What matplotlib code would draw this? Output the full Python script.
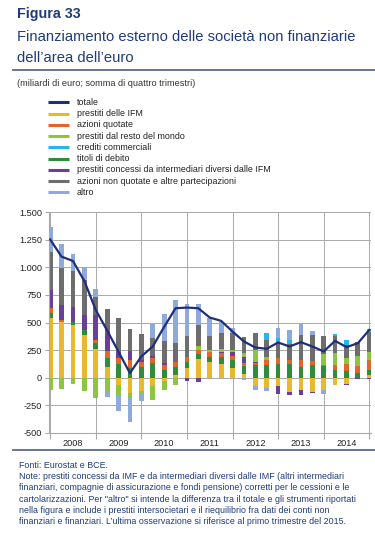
"""Figura 33 - finanziamento esterno delle societa non finanziarie dell'area dell'euro.

Stacked quarterly bars (somma di quattro trimestri) with the total as a line; writes out.png.
"""

import matplotlib

matplotlib.use("Agg")
import matplotlib.pyplot as plt
import numpy as np
from matplotlib.lines import Line2D
from matplotlib.ticker import FixedLocator, FuncFormatter

# quarters 2008Q1 .. 2015Q1 (29 observations), miliardi di euro
YEARS = ["2008", "2009", "2010", "2011", "2012", "2013", "2014"]

totale = [1252, 1096, 1057, 876, 614, 428, 235, 42, 193, 283, 460, 629, 635, 629, 545,
          515, 418, 328, 274, 262, 319, 283, 322, 283, 238, 334, 277, 313, 433]
prestiti_ifm = [545, 509, 473, 388, 262, 96, -63, -139, -120, -78, -30, 21, 87, 172, 147,
                123, 87, 30, -78, -93, -78, -129, -108, -129, -108, -63, -57, 0, 27]
azioni_quotate = [45, 15, 0, 0, 30, 60, 60, 75, 45, 46, 45, 54, 37, 39, 45,
                  30, 30, 25, 18, 45, 54, 39, 69, 36, 15, 45, 66, 66, 90]
resto_mondo = [-108, -102, -57, -117, -184, -123, -90, -45, -20, -121, -80, -69, 0, 30, 15,
               20, 21, 30, 105, 30, 0, 0, 0, 0, 96, 105, 54, 93, 75]
crediti_comm = [0, 0, 0, 0, 0, 0, 0, 0, 0, 0, 0, 0, 0, 0, 0,
                0, 0, 0, 0, 61, 36, 39, 0, 0, 0, 18, 45, 0, 24]
titoli_debito = [39, 0, 36, 45, 51, 82, 120, 87, 100, 132, 72, 72, 60, 42, 45,
                 69, 76, 80, 117, 117, 123, 123, 93, 117, 102, 72, 57, 42, 45]
intermediari = [166, 135, 135, 136, 226, 165, 55, 76, 20, 15, 20, 0, -27, -39, 0,
                15, 39, 55, 10, 0, -69, -24, -51, -12, 0, 0, -6, -12, -9]
azioni_non_quot = [346, 331, 322, 316, 165, 215, 310, 204, 232, 171, 197, 172, 195, 196, 127,
                   152, 150, 150, 159, 150, 144, 141, 226, 235, 169, 157, 120, 120, 181]
altro = [225, 217, 151, 114, 67, -55, -145, -220, -74, 130, 240, 385, 289, 189, 160,
         100, 45, -20, -36, -24, 90, 90, 96, 36, -36, 0, 0, 0, 0]

LEGEND = [
    ("totale", "#1f2e7a"),
    ("prestiti delle IFM", "#e9b82c"),
    ("azioni quotate", "#e2652a"),
    ("prestiti dal resto del mondo", "#8cc540"),
    ("crediti commerciali", "#29b5e8"),
    ("titoli di debito", "#2f8c3c"),
    ("prestiti concessi da intermediari diversi dalle IFM", "#6b3e98"),
    ("azioni non quotate e altre partecipazioni", "#6d6d6d"),
    ("altro", "#8eaadc"),
]
COLOR = dict(LEGEND)

# stacking order as it appears in the bars (from zero outwards)
STACK = [
    (prestiti_ifm, "prestiti delle IFM"),
    (titoli_debito, "titoli di debito"),
    (azioni_quotate, "azioni quotate"),
    (intermediari, "prestiti concessi da intermediari diversi dalle IFM"),
    (resto_mondo, "prestiti dal resto del mondo"),
    (azioni_non_quot, "azioni non quotate e altre partecipazioni"),
    (crediti_comm, "crediti commerciali"),
    (altro, "altro"),
]

BLUE = "#1f3b7b"
RULE = "#4a5d85"
GRID = "#a9a9a9"

plt.rcParams.update({"font.family": ["Liberation Sans", "DejaVu Sans"]})

W, H = 375, 539
fig = plt.figure(figsize=(W / 100, H / 100), dpi=100)


def fx(px):
    return px / W


def fy(py):
    return 1 - py / H


# header
fig.text(fx(17), fy(14), "Figura 33", fontsize=10.3, fontweight="bold", color=BLUE, va="center")
fig.text(fx(17), fy(37), "Finanziamento esterno delle società non finanziarie",
         fontsize=10.6, color=BLUE, va="center")
fig.text(fx(17), fy(58), "dell\u2019area dell\u2019euro", fontsize=10.6, color=BLUE, va="center")
fig.add_artist(Line2D([fx(13), 1], [fy(70), fy(70)], color=RULE, lw=1.2))
fig.text(fx(17), fy(84), "(miliardi di euro; somma di quattro trimestri)",
         fontsize=6.6, color="#333333", va="center")

# legend drawn by hand
for k, (label, color) in enumerate(LEGEND):
    y = 102.3 + k * 11.25
    fig.add_artist(Line2D([fx(48), fx(69)], [fy(y), fy(y)], color=color, lw=2.2,
                          solid_capstyle="butt"))
    fig.text(fx(77), fy(y), label, fontsize=6.4, color="#222222", va="center")

# chart
ax = fig.add_axes([fx(49), fy(433), fx(371) - fx(49), fy(212) - fy(433)])
x = np.arange(len(totale))
pos = np.zeros(len(x))
neg = np.zeros(len(x))
for values, name in STACK:
    v = np.asarray(values, dtype=float)
    bottom = np.where(v >= 0, pos, neg)
    ax.bar(x, v, bottom=bottom, width=0.42, color=COLOR[name], linewidth=0, zorder=2)
    pos = np.where(v >= 0, pos + v, pos)
    neg = np.where(v < 0, neg + v, neg)
ax.plot(x, totale, color=COLOR["totale"], lw=1.6, zorder=3, solid_joinstyle="round")

ax.set_xlim(-0.1, 28.15)
ax.set_ylim(-500, 1500)
ax.yaxis.set_major_locator(FixedLocator(np.arange(-500, 1501, 250)))
ax.yaxis.set_major_formatter(FuncFormatter(lambda v, _: f"{int(v):,}".replace(",", ".")))
ax.xaxis.set_major_locator(FixedLocator(np.arange(0, 29, 4)))
ax.xaxis.set_minor_locator(FixedLocator(np.arange(2, 28, 4)))
ax.xaxis.set_major_formatter(FuncFormatter(lambda v, _: ""))
ax.set_xticklabels(YEARS, minor=True)
ax.tick_params(axis="x", which="minor", length=0, labelsize=6.6, pad=4, colors="#222222")
ax.tick_params(axis="x", which="major", length=4, color=GRID)
ax.tick_params(axis="y", length=3, color=GRID, labelsize=6.6, pad=2, labelcolor="#222222")
ax.grid(True, which="major", color=GRID, lw=0.7, zorder=0)
ax.set_axisbelow(True)
for side in ("top", "right"):
    ax.spines[side].set_visible(False)
for side in ("left", "bottom"):
    ax.spines[side].set_color(GRID)
    ax.spines[side].set_linewidth(0.8)

# footer
fig.add_artist(Line2D([fx(13), 1], [fy(450), fy(450)], color=RULE, lw=1.2))
NOTES = [
    "Fonti: Eurostat e BCE.",
    "Note: prestiti concessi da IMF e da intermediari diversi dalle IMF (altri intermediari",
    "finanziari, compagnie di assicurazione e fondi pensione) corretti per le cessioni e le",
    "cartolarizzazioni. Per \"altro\" si intende la differenza tra il totale e gli strumenti riportati",
    "nella figura e include i prestiti intersocietari e il riequilibrio fra dati dei conti non",
    "finanziari e finanziari. L\u2019ultima osservazione si riferisce al primo trimestre del 2015.",
]
for k, line in enumerate(NOTES):
    fig.text(fx(19), fy(465 + k * 11.35), line, fontsize=6.4, color=BLUE, va="center")

fig.savefig("out.png", dpi=100)
